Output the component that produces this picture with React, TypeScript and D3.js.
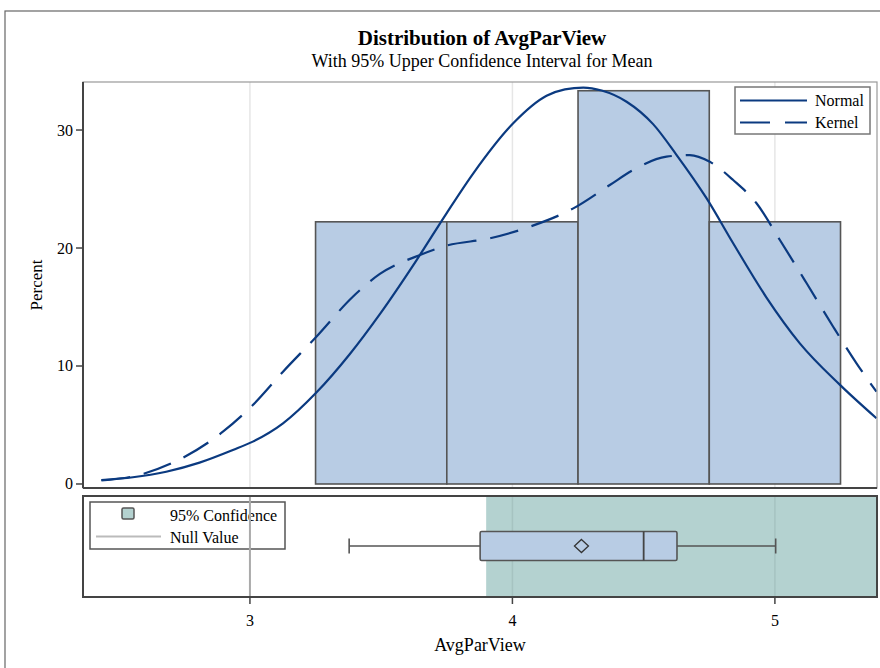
import React from 'react';
import * as d3 from 'd3';

// histogram
const binEdges = [3.25, 3.75, 4.25, 4.75, 5.25];
const binPercent = [22.22, 22.22, 33.33, 22.22];

// fitted curves
const normalX = [2.434, 2.554, 2.681, 2.808, 2.935, 3.011, 3.126, 3.253, 3.38, 3.495, 3.635, 3.749, 3.851, 4.003, 4.13, 4.2, 4.27, 4.34, 4.435, 4.536, 4.625, 4.74, 4.841, 4.968, 5.095, 5.248, 5.387];
const normalY = [0.34, 0.57, 1.04, 1.81, 2.88, 3.59, 5.14, 7.75, 11.0, 14.4, 18.98, 22.94, 26.33, 30.57, 32.9, 33.45, 33.6, 33.35, 32.4, 30.5, 27.9, 24.2, 20.4, 15.8, 11.92, 8.4, 5.57];
const kernelX = [2.434, 2.55, 2.707, 2.897, 3.011, 3.126, 3.253, 3.392, 3.495, 3.648, 3.749, 3.914, 4.067, 4.232, 4.371, 4.46, 4.587, 4.676, 4.752, 4.841, 4.93, 5.019, 5.121, 5.222, 5.311, 5.387];
const kernelY = [0.3, 0.62, 1.81, 4.43, 6.69, 9.52, 12.48, 15.87, 17.8, 19.41, 20.2, 20.82, 21.81, 23.36, 25.34, 26.61, 27.74, 27.88, 27.31, 25.76, 23.79, 20.68, 17.01, 13.33, 10.23, 7.82];

// box plot: min, q1, median, q3, max
const boxValues = [3.378, 3.877, 4.5, 4.627, 5.003];
const meanValue = 4.263;
const confLower = 3.9;
const nullValue = 3;

const xTicks = [3, 4, 5];
const yTicks = [0, 10, 20, 30];

const font = "'Liberation Serif', 'Times New Roman', serif";
const lineColor = '#0b3a80';
const barFill = '#b8cce4';
const bandFill = '#b4d2d0';

const App = () => {
    const width = 880;
    const height = 668;
    const plot = { left: 83, right: 877, top: 82, bottom: 488 };
    const lower = { top: 496, bottom: 597 };

    const x = d3.scaleLinear().domain([2.364, 5.389]).range([plot.left, plot.right]);
    const y = d3.scaleLinear().domain([-0.34, 34.07]).range([plot.bottom, plot.top]);

    const line = d3.line<[number, number]>()
        .x(d => x(d[0]))
        .y(d => y(d[1]))
        .curve(d3.curveMonotoneX);

    const normalPts = normalX.map((v, i) => [v, normalY[i]] as [number, number]);
    const kernelPts = kernelX.map((v, i) => [v, kernelY[i]] as [number, number]);

    const boxMid = 546;
    const boxHalf = 14.5;
    const [bMin, bQ1, bMed, bQ3, bMax] = boxValues;

    return (
        <svg width={width} height={height} style={{ position: 'absolute', left: 0, top: 0 }} fontFamily={font}>
            <rect x={0} y={0} width={width} height={height} fill="#fff" />
            <rect x={5} y={11} width={920} height={700} fill="none" stroke="#666" strokeWidth={1.2} />

            <text x={482} y={45} textAnchor="middle" fontSize={21} fontWeight="bold" fill="#000">Distribution of AvgParView</text>
            <text x={482} y={67} textAnchor="middle" fontSize={18} fill="#000">With 95% Upper Confidence Interval for Mean</text>

            {/* upper panel */}
            {xTicks.map(t => (
                <line key={`g-${t}`} x1={x(t)} x2={x(t)} y1={plot.top} y2={plot.bottom} stroke="#e6e6e6" strokeWidth={1.5} />
            ))}
            {binPercent.map((p, i) => (
                <rect key={`bar-${i}`} x={x(binEdges[i])} y={y(p)} width={x(binEdges[i + 1]) - x(binEdges[i])}
                    height={y(0) - y(p)} fill={barFill} stroke="#555" strokeWidth={1.6} />
            ))}
            <path d={line(normalPts) || ''} fill="none" stroke={lineColor} strokeWidth={2.2} />
            <path d={line(kernelPts) || ''} fill="none" stroke={lineColor} strokeWidth={2.2} strokeDasharray="29 14" />

            <rect x={plot.left} y={plot.top} width={plot.right - plot.left} height={plot.bottom - plot.top} fill="none" stroke="#999" strokeWidth={1.2} />
            <line x1={plot.left} x2={plot.left} y1={plot.top} y2={plot.bottom} stroke="#444" strokeWidth={2} />
            <line x1={plot.left} x2={plot.right} y1={plot.bottom} y2={plot.bottom} stroke="#444" strokeWidth={2} />

            {yTicks.map(t => (
                <g key={`yt-${t}`}>
                    <line x1={plot.left - 7} x2={plot.left} y1={y(t)} y2={y(t)} stroke="#444" strokeWidth={1.5} />
                    <text x={plot.left - 10} y={y(t) + 5.5} textAnchor="end" fontSize={16} fill="#000">{t}</text>
                </g>
            ))}
            <text transform={`translate(42, 285) rotate(-90)`} textAnchor="middle" fontSize={17} fill="#000">Percent</text>

            {/* legend */}
            <rect x={735} y={87} width={135} height={47} fill="#fff" stroke="#777" strokeWidth={1.5} />
            <line x1={740} x2={807} y1={100.5} y2={100.5} stroke={lineColor} strokeWidth={2.2} />
            <line x1={740} x2={807} y1={122.5} y2={122.5} stroke={lineColor} strokeWidth={2.2} strokeDasharray="30 15" />
            <text x={815} y={106} fontSize={16} fill="#000">Normal</text>
            <text x={815} y={128} fontSize={16} fill="#000">Kernel</text>

            {/* lower panel */}
            <rect x={x(confLower)} y={lower.top} width={plot.right - x(confLower)} height={lower.bottom - lower.top} fill={bandFill} />
            {xTicks.filter(t => t !== nullValue).map(t => (
                <line key={`lg-${t}`} x1={x(t)} x2={x(t)} y1={lower.top} y2={lower.bottom} stroke="#a6c3c1" strokeWidth={1.5} />
            ))}

            <rect x={90} y={502} width={195} height={47} fill="#fff" stroke="#555" strokeWidth={1.5} />
            <rect x={122} y={508} width={12} height={11} rx={1.5} fill={bandFill} stroke="#555" strokeWidth={1.5} />
            <line x1={96} x2={161} y1={536.5} y2={536.5} stroke="#bbb" strokeWidth={2} />
            <text x={170} y={521} fontSize={16} fill="#000">95% Confidence</text>
            <text x={170} y={543} fontSize={16} fill="#000">Null Value</text>

            <line x1={x(nullValue)} x2={x(nullValue)} y1={lower.top} y2={lower.bottom} stroke="#aaa" strokeWidth={2} />

            {/* box plot */}
            <line x1={x(bMin)} x2={x(bQ1)} y1={boxMid} y2={boxMid} stroke="#555" strokeWidth={1.6} />
            <line x1={x(bQ3)} x2={x(bMax)} y1={boxMid} y2={boxMid} stroke="#555" strokeWidth={1.6} />
            <line x1={x(bMin)} x2={x(bMin)} y1={boxMid - 7.5} y2={boxMid + 7.5} stroke="#555" strokeWidth={1.6} />
            <line x1={x(bMax)} x2={x(bMax)} y1={boxMid - 7.5} y2={boxMid + 7.5} stroke="#555" strokeWidth={1.6} />
            <rect x={x(bQ1)} y={boxMid - boxHalf} width={x(bQ3) - x(bQ1)} height={boxHalf * 2} rx={1.5} fill={barFill} stroke="#555" strokeWidth={1.6} />
            <line x1={x(bMed)} x2={x(bMed)} y1={boxMid - boxHalf} y2={boxMid + boxHalf} stroke="#444" strokeWidth={1.8} />
            <path d={`M${x(meanValue)},${boxMid - 6.5} l7,6.5 l-7,6.5 l-7,-6.5 Z`} fill="none" stroke="#333" strokeWidth={1.3} />

            <rect x={plot.left} y={lower.top} width={plot.right - plot.left} height={lower.bottom - lower.top} fill="none" stroke="#444" strokeWidth={2} />

            {xTicks.map(t => (
                <g key={`xt-${t}`}>
                    <line x1={x(t)} x2={x(t)} y1={lower.bottom} y2={lower.bottom + 7} stroke="#444" strokeWidth={1.5} />
                    <text x={x(t)} y={626} textAnchor="middle" fontSize={16} fill="#000">{t}</text>
                </g>
            ))}
            <text x={480} y={651} textAnchor="middle" fontSize={18} fill="#000">AvgParView</text>
        </svg>
    );
};

export default App;
